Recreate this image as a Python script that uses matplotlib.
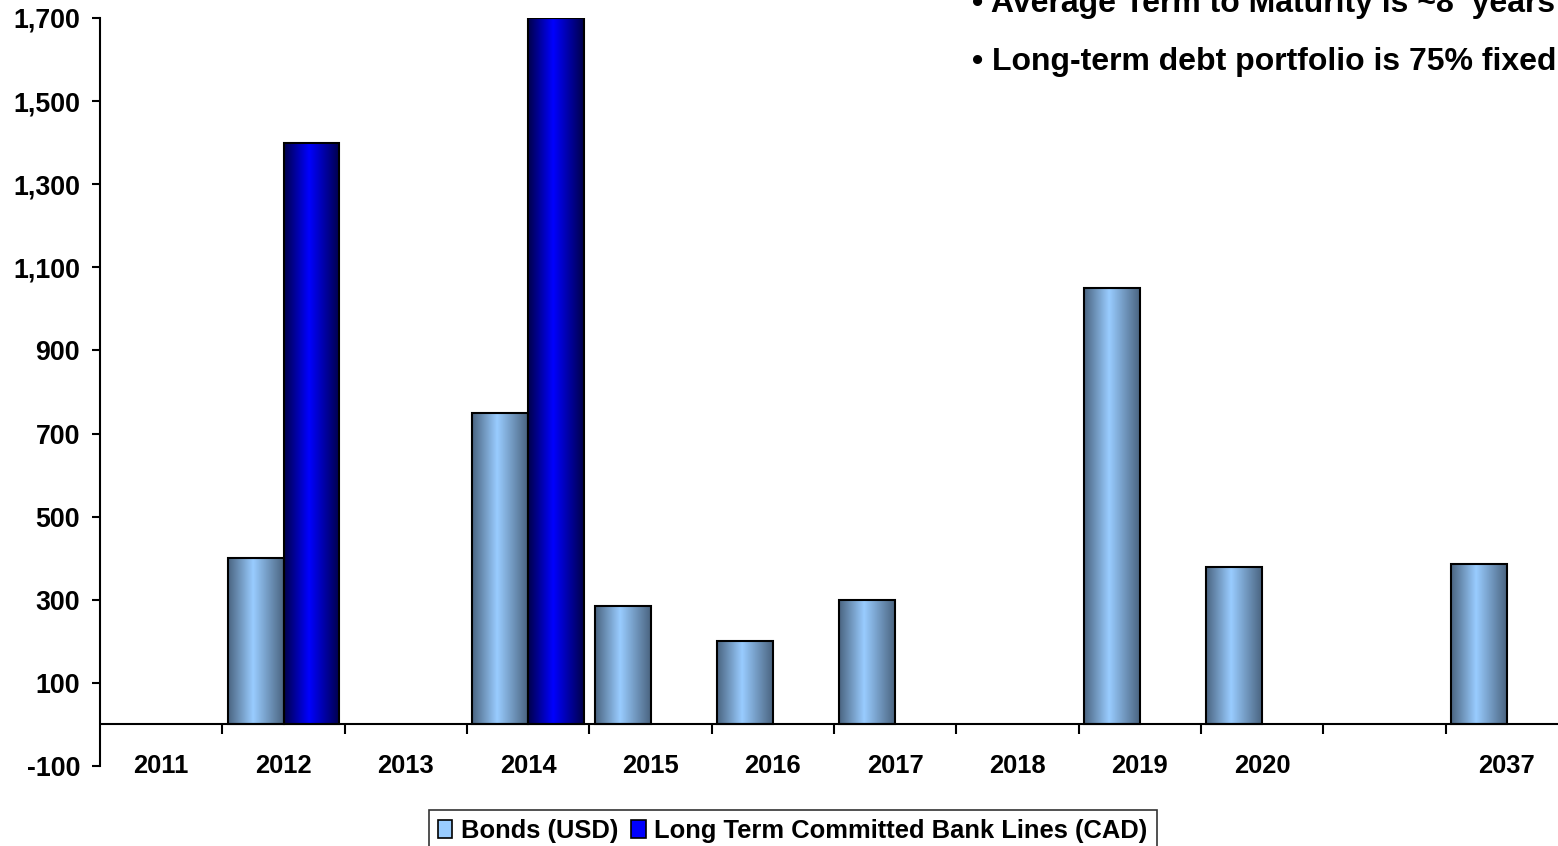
import matplotlib
matplotlib.use("Agg")
import matplotlib.pyplot as plt
import numpy as np
from matplotlib.colors import LinearSegmentedColormap
from matplotlib.patches import Rectangle

CATEGORIES = ["2011", "2012", "2013", "2014", "2015", "2016", "2017",
              "2018", "2019", "2020", "", "2037"]
BONDS_USD = [0, 400, 0, 750, 285, 200, 300, 0, 1050, 380, 0, 385]
BANK_CAD = [0, 1400, 0, 1700, 0, 0, 0, 0, 0, 0, 0, 0]
SERIES_NAMES = ["Bonds (USD)", "Long Term Committed Bank Lines (CAD)"]
Y_TICKS = list(range(-100, 1701, 200))
NOTES = ["\u2022 Average Term to Maturity is ~8  years",
         "\u2022 Long-term debt portfolio is 75% fixed"]

W, H = 1558, 846
BAR_W = 0.457
FONT = ["Liberation Sans", "DejaVu Sans"]

plt.rcParams["font.family"] = FONT
plt.rcParams["font.weight"] = "bold"

# edge -> centre -> edge colour ramps, like the Excel "metal" fill
bond_cmap = LinearSegmentedColormap.from_list(
    "bond", [(0.0, "#4a6480"), (0.45, "#99ccff"), (1.0, "#4a6480")])
bank_cmap = LinearSegmentedColormap.from_list(
    "bank", [(0.0, "#00004a"), (0.45, "#0000ff"), (1.0, "#00004a")])


def gradient_bars(ax, xs, vals, cmap):
    grad = np.linspace(0, 1, 256).reshape(1, -1)
    for x, v in zip(xs, vals):
        if v == 0:
            continue
        bar = ax.bar(x, v, width=BAR_W, color="none", edgecolor="black",
                     linewidth=1.5, zorder=4)[0]
        x0 = x - BAR_W / 2
        im = ax.imshow(grad, cmap=cmap, aspect="auto", zorder=3,
                       extent=[x0, x0 + BAR_W, 0, v], interpolation="bilinear")
        im.set_clip_path(bar)


fig = plt.figure(figsize=(W / 100, H / 100), dpi=100)
ax = fig.add_axes([100 / W, 1 - 766 / H, 1468 / W, 748 / H])

idx = np.arange(len(CATEGORIES))
gradient_bars(ax, idx - BAR_W / 2, BONDS_USD, bond_cmap)
gradient_bars(ax, idx + BAR_W / 2, BANK_CAD, bank_cmap)

ax.set_xlim(-0.5, len(CATEGORIES) - 0.5)
ax.set_ylim(Y_TICKS[0], Y_TICKS[-1])
ax.set_yticks(Y_TICKS)
ax.set_yticklabels([f"{t:,}" for t in Y_TICKS])
ax.tick_params(axis="y", direction="out", length=5.8, width=1.5,
               labelsize=19.3, pad=8.6)
ax.set_xticks([])

for s in ["top", "right", "bottom"]:
    ax.spines[s].set_visible(False)
ax.spines["left"].set_linewidth(1.5)

# category axis sits at zero, tick marks hang below it
ax.axhline(0, color="black", lw=1.5, zorder=5)
ax.vlines(idx[:-1] + 0.5, -22, 0, color="black", lw=1.5, zorder=5)
for i, lab in enumerate(CATEGORIES):
    ax.text(i, Y_TICKS[0] + 1, lab, ha="center", va="center", fontsize=18.4,
            fontweight="bold")

fig.text(972 / W, 1 - 12 / H, NOTES[0], fontsize=23, fontweight="bold",
         va="baseline", ha="left")
fig.text(972 / W, 1 - 70 / H, NOTES[1], fontsize=23, fontweight="bold",
         va="baseline", ha="left")

handles = [Rectangle((0, 0), 1, 1, facecolor="#99ccff", edgecolor="black", lw=1.2),
           Rectangle((0, 0), 1, 1, facecolor="#0000ff", edgecolor="black", lw=1.2)]
leg = fig.legend(handles, SERIES_NAMES, loc="upper center", ncol=2,
                 bbox_to_anchor=(793 / W, 1 - 810 / H), frameon=True,
                 fancybox=False, edgecolor="black",
                 prop={"weight": "bold", "size": 18.4},
                 handlelength=0.55, handleheight=0.7, handletextpad=0.35,
                 columnspacing=0.5, borderpad=0.35, borderaxespad=0)
leg.get_frame().set_linewidth(1.2)

fig.savefig("out.png", dpi=100)
